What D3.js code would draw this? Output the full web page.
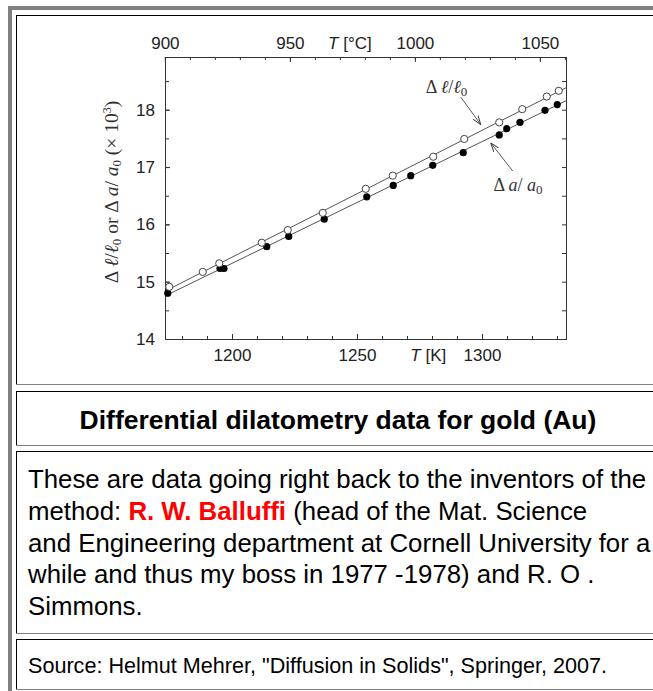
<!DOCTYPE html>
<html><head><meta charset="utf-8">
<script src="https://cdn.jsdelivr.net/npm/d3@7"></script>
<style>
html,body{margin:0;padding:0;background:#fff;overflow:hidden}
svg{display:block}
</style></head><body>
<svg id="c" width="653" height="691"></svg>
<script>
// ---- data ----
const dlT = [1174.9,1188.3,1194.9,1211.9,1222.3,1236.3,1253.5,1264.3,1280.5,1292.9,1306.9,1316.1,1325.9,1330.7];
const dlV = [14.91,15.17,15.32,15.68,15.90,16.20,16.62,16.85,17.18,17.49,17.78,18.01,18.23,18.33];
const daT = [1174.3,1195.2,1196.8,1213.9,1222.7,1236.9,1253.9,1264.5,1271.5,1280.3,1292.5,1306.9,1309.9,1315.2,1325.2,1330.1];
const daV = [14.80,15.23,15.23,15.61,15.79,16.09,16.48,16.68,16.85,17.03,17.25,17.56,17.67,17.78,17.99,18.09];
const xTicksK = [1200,1250,1300];
const xTicksC = [900,950,1000,1050];
const yTicks = [14,15,16,17,18];
const xDomainK = [1173.2,1333.6];
const yDomain = [14,18.92];
const titleText = "Differential dilatometry data for gold (Au)";
const bodyLines = [
  [["These are data going right back to the inventors of the",0]],
  [["method: ",0],["R. W. Balluffi",1],[" (head of the Mat. Science",0]],
  [["and Engineering department at Cornell University for a",0]],
  [["while and thus my boss in 1977 -1978) and R. O .",0]],
  [["Simmons.",0]]
];
const sourceText = "Source: Helmut Mehrer, \"Diffusion in Solids\", Springer, 2007.";
// annotation anchors in data units [T(K), value]
const annDl = {text:[1285.8,18.29], from:[1291.6,18.215], to:[1299.5,17.74]};
const annDa = {text:[1314.4,16.59], from:[1312.3,16.93], to:[1303.5,17.42]};

const svg = d3.select("#c");
svg.append("rect").attr("width",653).attr("height",691).attr("fill","#fff");

// ---- page frame / table cells ----
const G = svg.append("g").attr("shape-rendering","crispEdges");
G.append("rect").attr("x",8).attr("y",6).attr("width",4).attr("height",700).attr("fill","#808080");
G.append("rect").attr("x",8).attr("y",6).attr("width",660).attr("height",4).attr("fill","#808080");
const cells = [[15,384],[391,445],[451,633],[639,689]];
cells.forEach(([t,b])=>{
  G.append("rect").attr("x",16).attr("y",t).attr("width",650).attr("height",1).attr("fill","#000");
  G.append("rect").attr("x",16).attr("y",t).attr("width",1).attr("height",b-t).attr("fill","#000");
  G.append("rect").attr("x",16).attr("y",b).attr("width",650).attr("height",1).attr("fill","#808080");
});

// ---- chart ----
const L=165,R=566,T=57,B=339;
const x = d3.scaleLinear().domain(xDomainK).range([L,R]);
const xc = d3.scaleLinear().domain(xDomainK.map(v=>v-273.15)).range([L,R]);
const y = d3.scaleLinear().domain(yDomain).range([B,T]);
const ink="#222", axisCol="#333";
const font='"Liberation Sans", Arial, Helvetica, sans-serif';
const serif='"Liberation Serif","Times New Roman","DejaVu Serif",serif';

const minorK = d3.range(1180,1331,10);
const minorC = d3.range(900,1061,10).filter(v=>v>=xc.domain()[0]-0.5 && v<=xc.domain()[1]);
const minorY = d3.range(14,18.91,0.5);

function styleAxis(g){
  g.select(".domain").remove();
  g.selectAll(".tick line").attr("stroke",axisCol).attr("stroke-width",1);
  g.selectAll(".tick text").attr("fill",ink).style("font-family",font).style("font-size","17px");
}
// bottom
svg.append("g").attr("transform",`translate(0,${B})`)
  .call(d3.axisBottom(x).tickValues(minorK).tickSize(-3).tickFormat("")).call(styleAxis);
svg.append("g").attr("transform",`translate(0,${B})`)
  .call(d3.axisBottom(x).tickValues(xTicksK).tickSize(-5).tickPadding(10).tickFormat(d3.format("d"))).call(styleAxis);
// top
svg.append("g").attr("transform",`translate(0,${T})`)
  .call(d3.axisTop(xc).tickValues(minorC).tickSize(-3).tickFormat("")).call(styleAxis);
svg.append("g").attr("transform",`translate(0,${T})`)
  .call(d3.axisTop(xc).tickValues(xTicksC).tickSize(-5).tickPadding(8).tickFormat(d3.format("d"))).call(styleAxis);
// left
svg.append("g").attr("transform",`translate(${L},0)`)
  .call(d3.axisLeft(y).tickValues(minorY).tickSize(-4).tickFormat("")).call(styleAxis);
svg.append("g").attr("transform",`translate(${L},0)`)
  .call(d3.axisLeft(y).tickValues(yTicks).tickSize(-5).tickPadding(10).tickFormat(d3.format("d"))).call(styleAxis);
// right
svg.append("g").attr("transform",`translate(${R},0)`)
  .call(d3.axisRight(y).tickValues(minorY).tickSize(-4).tickFormat("")).call(styleAxis);

// frame
svg.append("rect").attr("x",L).attr("y",T).attr("width",R-L).attr("height",B-T)
  .attr("fill","none").attr("stroke",axisCol).attr("stroke-width",1).attr("shape-rendering","crispEdges");

// axis titles
const tc = svg.append("text").attr("x",xc(974)).attr("y",49).attr("text-anchor","middle")
  .attr("fill",ink).style("font-family",font).style("font-size","17px");
tc.append("tspan").attr("font-style","italic").text("T");
tc.append("tspan").text(" [°C]");
const tk = svg.append("text").attr("x",x(1278.5)).attr("y",361).attr("text-anchor","middle")
  .attr("fill",ink).style("font-family",font).style("font-size","17px");
tk.append("tspan").attr("font-style","italic").text("T");
tk.append("tspan").text(" [K]");

// y title
const yt = svg.append("text").attr("transform","translate(118,192) rotate(-90)")
  .attr("text-anchor","middle").attr("fill","#333").style("font-family",serif).style("font-size","19.5px");
function seg(t,txt,opt={}){
  const s=t.append("tspan").text(txt);
  if(opt.it) s.attr("font-style","italic");
  if(opt.dy) s.attr("dy",opt.dy);
  if(opt.fs) s.style("font-size",opt.fs);
  return s;
}
seg(yt,"Δ "); seg(yt,"ℓ",{it:1}); seg(yt,"/"); seg(yt,"ℓ",{it:1});
seg(yt,"0",{dy:"3",fs:"13px"}); seg(yt," or Δ ",{dy:"-3"}); seg(yt,"a",{it:1}); seg(yt,"/ "); seg(yt,"a",{it:1});
seg(yt,"0",{dy:"3",fs:"13px"}); seg(yt," (× 10",{dy:"-3"}); seg(yt,"3",{dy:"-7",fs:"12px"}); seg(yt,")",{dy:"7"});

// fit lines (least squares of each series)
function fit(xs,ys){
  const mx=d3.mean(xs), my=d3.mean(ys);
  let sxy=0,sxx=0; xs.forEach((v,i)=>{sxy+=(v-mx)*(ys[i]-my); sxx+=(v-mx)*(v-mx);});
  const m=sxy/sxx; return t=>my+m*(t-mx);
}
svg.append("clipPath").attr("id","pc").append("rect").attr("x",L).attr("y",T).attr("width",R-L).attr("height",B-T);
const lineG = svg.append("g").attr("clip-path","url(#pc)");
[[dlT,dlV],[daT,daV]].forEach(([xs,ys])=>{
  const f=fit(xs,ys);
  lineG.append("path").attr("d",d3.line()(xDomainK.map(t=>[x(t),y(f(t))])))
    .attr("fill","none").attr("stroke","#555").attr("stroke-width",1);
});

// points
svg.append("g").selectAll("circle").data(daT.map((t,i)=>[t,daV[i]])).join("circle")
  .attr("cx",d=>x(d[0])).attr("cy",d=>y(d[1])).attr("r",3.6).attr("fill","#000");
svg.append("g").selectAll("circle").data(dlT.map((t,i)=>[t,dlV[i]])).join("circle")
  .attr("cx",d=>x(d[0])).attr("cy",d=>y(d[1])).attr("r",3.6).attr("fill","#fff").attr("stroke","#444").attr("stroke-width",1);

// annotations
const defs = svg.append("defs");
defs.append("marker").attr("id","ar").attr("viewBox","0 0 10 10").attr("refX",10).attr("refY",5)
  .attr("markerWidth",9).attr("markerHeight",9).attr("markerUnits","userSpaceOnUse").attr("orient","auto")
  .append("path").attr("d","M0,1.5 L10,5 L0,8.5").attr("fill","none").attr("stroke","#444").attr("stroke-width",1.1);
[annDl,annDa].forEach(a=>{
  svg.append("line").attr("x1",x(a.from[0])).attr("y1",y(a.from[1])).attr("x2",x(a.to[0])).attr("y2",y(a.to[1]))
    .attr("stroke","#444").attr("stroke-width",0.9).attr("marker-end","url(#ar)");
});
const a1 = svg.append("text").attr("x",x(annDl.text[0])).attr("y",y(annDl.text[1])).attr("text-anchor","middle")
  .attr("fill","#333").style("font-family",serif).style("font-size","18px");
seg(a1,"Δ "); seg(a1,"ℓ",{it:1}); seg(a1,"/"); seg(a1,"ℓ",{it:1}); seg(a1,"0",{dy:"3",fs:"13px"});
const a2 = svg.append("text").attr("x",x(annDa.text[0])).attr("y",y(annDa.text[1])).attr("text-anchor","middle")
  .attr("fill","#333").style("font-family",serif).style("font-size","18px");
seg(a2,"Δ "); seg(a2,"a",{it:1}); seg(a2,"/ "); seg(a2,"a",{it:1}); seg(a2,"0",{dy:"3",fs:"13px"});

// ---- text cells ----
svg.append("text").attr("x",338).attr("y",429).attr("text-anchor","middle")
  .attr("fill","#000").style("font-family",font).style("font-size","26.5px").style("font-weight","bold")
  .text(titleText);
bodyLines.forEach((parts,i)=>{
  const t=svg.append("text").attr("x",28).attr("y",488+31.75*i).attr("fill","#000")
    .style("font-family",font).style("font-size","25.8px").attr("xml:space","preserve");
  parts.forEach(([s,red])=>{
    const sp=t.append("tspan").text(s);
    if(red) sp.attr("fill","#ff0000").style("font-weight","bold");
  });
});
svg.append("text").attr("x",28).attr("y",673).attr("fill","#000")
  .style("font-family",font).style("font-size","21.6px").text(sourceText);
</script>
</body></html>
